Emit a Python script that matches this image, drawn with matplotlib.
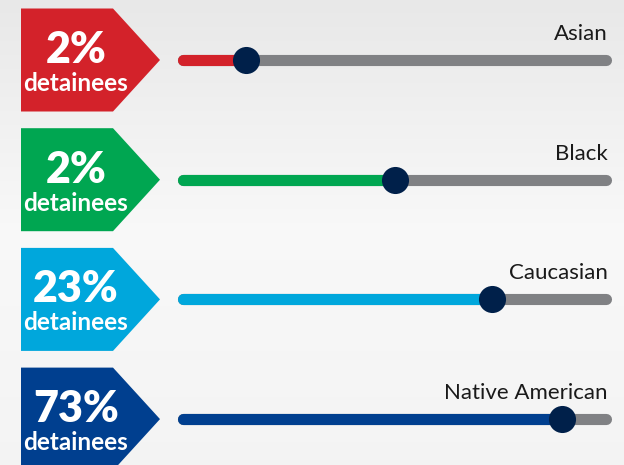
import matplotlib.pyplot as plt
from matplotlib.patches import Polygon
import numpy as np

# dane
groups = ["Asian", "Black", "Caucasian", "Native American"]
shares = ["2%", "2%", "23%", "73%"]
slider = [15, 50, 73, 89.5]
colors = ["#D3222A", "#00A651", "#00A7DC", "#003F8F"]

KNOB = "#00204A"
TRACK = "#808184"
W, H = 624, 465

fig = plt.figure(figsize=(W / 100, H / 100), dpi=100)
ax = fig.add_axes([0, 0, 1, 1])
ax.set_xlim(0, W)
ax.set_ylim(H, 0)
ax.axis("off")

# tlo - delikatny gradient
grad = np.interp(np.linspace(0, 1, 200), [0, 0.5, 1], [0.91, 0.975, 0.955])
ax.imshow(np.tile(grad[:, None], (1, 2))[:, :, None].repeat(3, axis=2),
          extent=[0, W, H, 0], aspect="auto", zorder=0)

x0, x1 = 183, 606
row0, step = 60, 119.7
half = 51.5

for i, (g, s, v, c) in enumerate(zip(groups, shares, slider, colors)):
    y = row0 + i * step

    # strzalka
    pts = [(21, y - half), (113, y - half), (160, y), (113, y + half), (21, y + half)]
    ax.add_patch(Polygon(pts, closed=True, color=c, lw=0, zorder=2))
    ax.text(76, y + 3, s, color="white", fontsize=31, fontweight="heavy",
            family="Lato", ha="center", va="baseline", zorder=3)
    ax.text(76, y + 31, "detainees", color="white", fontsize=17.5, fontweight="bold",
            family="Lato", ha="center", va="baseline", zorder=3)

    # suwak
    xv = x0 + v / 100 * (x1 - x0)
    ax.plot([x0, x1], [y, y], color=TRACK, lw=8, solid_capstyle="round", zorder=2)
    ax.plot([x0, xv], [y, y], color=c, lw=8, solid_capstyle="round", zorder=3)
    ax.plot([xv], [y], "o", color=KNOB, ms=19.5, mew=0, zorder=4)

    ax.text(608, y - 20, g, color="#1a1a1a", fontsize=16, family="Lato",
            ha="right", va="baseline", zorder=3)

fig.savefig("out.png", dpi=100)
